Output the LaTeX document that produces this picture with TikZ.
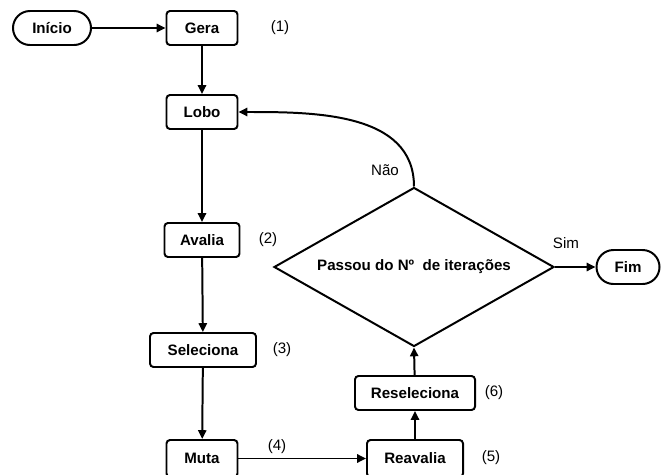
\documentclass[tikz,border=0pt]{standalone}
\usepackage{fontspec}
\setmainfont{Liberation Sans}
\usepackage{tikz}
\usetikzlibrary{arrows.meta}
\usetikzlibrary{positioning}
\usetikzlibrary{shapes.geometric,shapes.misc}

\begin{document}
\begin{tikzpicture}[x=0.03cm,y=-0.03cm,line width=1.7pt,
    font=\fontsize{12.9}{15}\selectfont,
    box/.style={draw,rounded corners=3pt,font=\fontsize{12.9}{15}\selectfont\bfseries,
      minimum height=1.02cm,inner sep=0pt},
    pill/.style={draw,rounded rectangle,font=\fontsize{12.9}{15}\selectfont\bfseries,
      minimum height=1.02cm,inner sep=0pt},
    arr/.style={-{Triangle[length=7.5pt,width=7pt]}}]
          \useasboundingbox (0,0) rectangle (662,475);
          \node[pill,minimum width=2.34cm](inicio) at (52,28) {Início};
          \node[box,minimum width=2.13cm](gera) at (202,28) {Gera};
          \node[box,minimum width=2.13cm](lobo) at (202,112) {Lobo};
          \node[box,minimum width=2.25cm](avalia) at (202,240) {Avalia};
          \node[box,minimum width=3.18cm](seleciona) at (203,350) {Seleciona};
          \node[box,minimum width=2.13cm,minimum height=1.11cm](muta) at (202,458.5) {Muta};
          \node[box,minimum width=2.88cm,minimum height=1.11cm](reavalia) at (415,458.5) {Reavalia};
          \node[box,minimum width=3.6cm](reseleciona) at (415,393) {Reseleciona};
          \node[draw,diamond,aspect=1.76,minimum width=8.4cm,minimum height=4.77cm,
            inner sep=0pt,font=\fontsize{12.9}{15}\selectfont\bfseries](passou) at (414,267)
            {Passou do Nº\ \ de iterações};
          \node[pill,minimum width=1.89cm](fim) at (628,267) {Fim};
          % numeros e rotulos
          \node(n1) at (280,28) {(1)};
          \node(n2) at (268,240) {(2)};
          \node(n3) at (282,350) {(3)};
          \node(n4) at (277,447) {(4)};
          \node(n5) at (491,458) {(5)};
          \node(n6) at (494,393) {(6)};
          \node(sim) at (566,243) {Sim};
          \node(nao) at (385,170) {Não};
          \draw[arr] (inicio) -- (gera);
          \draw[arr] (gera) -- (lobo);
          \draw[arr] (lobo) -- (avalia);
          \draw[arr] (avalia) -- (seleciona);
          \draw[arr] (seleciona) -- (muta);
          \draw[arr] (muta) -- (reavalia);
          \draw[arr] (reavalia) -- (reseleciona);
          \draw[arr] (reseleciona) -- (passou.south);
          \draw[arr] (passou.east) -- (fim);
          \draw[arr] (passou.north) to[out=90,in=0] (lobo.east);
      \end{tikzpicture}
\end{document}
